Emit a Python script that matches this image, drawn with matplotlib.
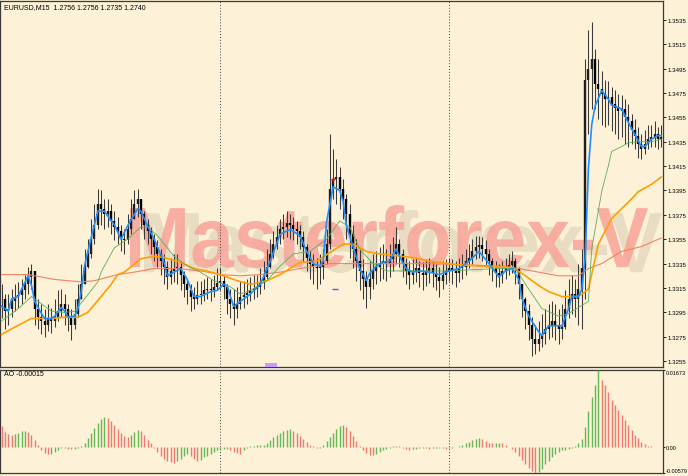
import numpy as np
import matplotlib
matplotlib.use("Agg")
from matplotlib import pyplot as plt
from matplotlib.textpath import TextPath
from matplotlib.patches import PathPatch, Rectangle
from matplotlib.font_manager import FontProperties
from matplotlib.transforms import Affine2D

plt.rcParams['font.family'] = ['Liberation Sans', 'DejaVu Sans']

title = "EURUSD,M15  1.2756 1.2756 1.2735 1.2740"
ao_title = "AO -0.00015"
watermark = "Masterforex-V"

# EURUSD M15 bars (price * 10000)
close = [
    13306, 13296, 13298, 13304, 13308, 13309, 13313, 13318, 13324, 13329,
    13298, 13291, 13288, 13285, 13290, 13288, 13291, 13296, 13302, 13298,
    13290, 13285, 13294, 13306, 13318, 13332, 13343, 13355, 13367, 13384,
    13380, 13376, 13378, 13370, 13365, 13362, 13355, 13354, 13363, 13372,
    13384, 13388, 13376, 13367, 13362, 13355, 13349, 13343, 13337, 13332,
    13324, 13329, 13331, 13332, 13326, 13318, 13313, 13308, 13306, 13309,
    13310, 13313, 13314, 13313, 13316, 13319, 13321, 13316, 13306, 13302,
    13298, 13302, 13308, 13309, 13311, 13313, 13314, 13316, 13319, 13324,
    13332, 13343, 13351, 13357, 13363, 13365, 13368, 13367, 13363, 13362,
    13357, 13349, 13340, 13335, 13332, 13331, 13332, 13337, 13351, 13396,
    13404, 13406, 13396, 13388, 13376, 13359, 13347, 13337, 13329, 13322,
    13316, 13322, 13329, 13332, 13335, 13337, 13335, 13339, 13343, 13351,
    13343, 13335, 13329, 13326, 13329, 13331, 13327, 13326, 13329, 13331,
    13327, 13324, 13321, 13326, 13329, 13331, 13329, 13327, 13331, 13332,
    13337, 13340, 13345, 13349, 13350, 13347, 13343, 13337, 13331, 13327,
    13326, 13329, 13331, 13334, 13337, 13331, 13318, 13306, 13296, 13285,
    13273, 13269, 13273, 13277, 13281, 13285, 13288, 13285, 13281, 13283,
    13298, 13306, 13310, 13306, 13314, 13331, 13486, 13495, 13503, 13482,
    13478, 13474, 13470, 13472, 13466, 13463, 13460, 13462, 13455, 13452,
    13445, 13440, 13433, 13429, 13433, 13437, 13439, 13441, 13437, 13439]
high = [
    13318, 13310, 13310, 13314, 13318, 13320, 13322, 13326, 13332, 13335,
    13318, 13306, 13302, 13298, 13302, 13299, 13306, 13313, 13314, 13310,
    13302, 13298, 13306, 13318, 13335, 13347, 13355, 13372, 13384, 13396,
    13395, 13388, 13388, 13384, 13378, 13373, 13367, 13363, 13376, 13388,
    13395, 13396, 13388, 13378, 13372, 13365, 13359, 13354, 13347, 13343,
    13337, 13340, 13343, 13343, 13337, 13329, 13322, 13318, 13316, 13321,
    13321, 13322, 13324, 13322, 13326, 13331, 13331, 13326, 13318, 13314,
    13314, 13316, 13321, 13321, 13322, 13324, 13326, 13326, 13331, 13337,
    13347, 13355, 13362, 13367, 13372, 13376, 13378, 13376, 13373, 13370,
    13367, 13362, 13351, 13345, 13343, 13340, 13343, 13347, 13363, 13441,
    13429, 13421, 13414, 13404, 13392, 13384, 13367, 13355, 13347, 13339,
    13329, 13337, 13343, 13345, 13349, 13351, 13347, 13351, 13357, 13365,
    13355, 13347, 13340, 13337, 13339, 13340, 13337, 13336, 13339, 13340,
    13337, 13335, 13332, 13337, 13339, 13340, 13339, 13337, 13340, 13343,
    13347, 13351, 13355, 13358, 13358, 13357, 13354, 13347, 13340, 13337,
    13335, 13337, 13340, 13343, 13345, 13340, 13332, 13318, 13308, 13302,
    13291, 13285, 13288, 13294, 13298, 13302, 13304, 13302, 13298, 13302,
    13313, 13322, 13326, 13322, 13335, 13347, 13503, 13527, 13533, 13511,
    13503, 13493, 13486, 13485, 13480, 13477, 13474, 13473, 13470, 13466,
    13458, 13454, 13447, 13441, 13445, 13449, 13449, 13452, 13447, 13449]
low = [
    13290, 13281, 13285, 13291, 13296, 13299, 13302, 13306, 13310, 13314,
    13285, 13281, 13277, 13275, 13280, 13278, 13283, 13288, 13291, 13285,
    13280, 13272, 13281, 13291, 13306, 13318, 13331, 13340, 13351, 13363,
    13367, 13363, 13365, 13359, 13354, 13351, 13345, 13343, 13351, 13359,
    13372, 13373, 13363, 13355, 13351, 13343, 13337, 13332, 13326, 13318,
    13314, 13318, 13320, 13318, 13313, 13308, 13302, 13296, 13298, 13302,
    13302, 13304, 13306, 13304, 13308, 13313, 13313, 13306, 13294, 13290,
    13285, 13290, 13298, 13299, 13302, 13304, 13306, 13308, 13310, 13314,
    13322, 13331, 13340, 13347, 13351, 13355, 13357, 13355, 13354, 13351,
    13347, 13337, 13329, 13322, 13318, 13314, 13318, 13322, 13335, 13347,
    13388, 13384, 13380, 13372, 13355, 13340, 13331, 13321, 13313, 13306,
    13299, 13306, 13314, 13318, 13321, 13322, 13321, 13324, 13329, 13335,
    13332, 13324, 13318, 13314, 13318, 13320, 13316, 13313, 13317, 13319,
    13316, 13313, 13308, 13314, 13318, 13321, 13318, 13316, 13320, 13322,
    13326, 13331, 13335, 13339, 13340, 13337, 13332, 13326, 13321, 13316,
    13316, 13319, 13322, 13326, 13327, 13318, 13306, 13291, 13281, 13272,
    13259, 13261, 13263, 13267, 13269, 13273, 13275, 13272, 13269, 13273,
    13281, 13290, 13294, 13291, 13285, 13281, 13306, 13441, 13462, 13462,
    13454, 13449, 13447, 13449, 13444, 13441, 13437, 13439, 13433, 13431,
    13433, 13429, 13422, 13421, 13425, 13429, 13431, 13431, 13429, 13431]

# moving averages (bar index, price * 10000)
fast_ma_bar = [0, 2, 3, 5, 6, 8, 9, 10, 12, 13, 15, 16, 18, 19, 20, 22, 23, 24, 25, 26,
               29, 31, 32, 34, 36, 38, 41, 42, 44, 46, 49, 50, 52, 54, 56, 58, 60, 63, 65, 67,
               68, 69, 70, 72, 75, 78, 81, 84, 87, 90, 92, 94, 96, 97, 98, 100, 102, 103, 104, 106,
               108, 110, 111, 113, 115, 117, 119, 120, 122, 124, 126, 129, 132, 135, 138, 141, 144, 147, 150, 152,
               154, 156, 157, 159, 162, 163, 165, 167, 169, 171, 172, 174, 175, 176, 177, 178, 179, 181, 183, 184,
               187, 189, 191, 193, 194, 196, 198, 199]
fast_ma = [13300, 13296, 13306, 13308, 13314, 13325, 13317, 13304, 13294, 13290,
           13290, 13292, 13299, 13296, 13291, 13292, 13298, 13312, 13333, 13345,
           13378, 13378, 13374, 13367, 13355, 13366, 13380, 13378, 13366, 13355,
           13336, 13325, 13328, 13331, 13322, 13308, 13308, 13312, 13313, 13318,
           13317, 13308, 13300, 13304, 13310, 13318, 13337, 13359, 13363, 13358,
           13345, 13335, 13333, 13337, 13369, 13398, 13395, 13386, 13366, 13349,
           13331, 13321, 13327, 13333, 13336, 13337, 13347, 13341, 13331, 13328,
           13329, 13328, 13326, 13329, 13331, 13337, 13345, 13335, 13324, 13329,
           13331, 13322, 13306, 13292, 13279, 13276, 13284, 13284, 13284, 13298,
           13308, 13308, 13314, 13339, 13413, 13449, 13464, 13477, 13470, 13465,
           13462, 13451, 13441, 13431, 13431, 13437, 13440, 13440]

mid_ma_bar = [0, 5, 9, 12, 15, 19, 22, 25, 29, 30, 34, 38, 42, 44, 47, 52, 56, 60, 64, 69,
              72, 75, 80, 84, 88, 93, 98, 102, 105, 108, 112, 116, 120, 135, 150, 155, 159, 163, 168, 171,
              174, 177, 178, 181, 183, 184, 187, 189, 192, 196, 199]
mid_ma = [13288, 13298, 13308, 13302, 13296, 13295, 13296, 13306, 13320, 13328,
          13348, 13355, 13365, 13365, 13358, 13341, 13333, 13328, 13321, 13316,
          13310, 13313, 13321, 13333, 13343, 13345, 13355, 13370, 13365, 13347,
          13335, 13329, 13329, 13329, 13331, 13331, 13314, 13298, 13292, 13294,
          13299, 13304, 13347, 13394, 13415, 13427, 13431, 13434, 13435, 13435,
          13437]

slow_ma_bar = [0, 4, 9, 12, 15, 19, 23, 26, 30, 33, 35, 37, 42, 46, 49, 54, 58, 62, 67, 71,
               75, 80, 84, 90, 95, 103, 106, 110, 114, 124, 129, 138, 150, 154, 158, 162, 165, 169, 174, 177,
               180, 184, 190, 192, 196, 199]
slow_ma = [13277, 13283, 13290, 13290, 13290, 13291, 13291, 13295, 13308, 13318,
           13326, 13328, 13339, 13341, 13340, 13336, 13331, 13329, 13325, 13321,
           13318, 13321, 13326, 13336, 13337, 13351, 13351, 13345, 13343, 13340,
           13337, 13334, 13332, 13332, 13325, 13317, 13312, 13308, 13308, 13314,
           13351, 13372, 13388, 13394, 13400, 13406]

long_ma_bar = [0, 8, 16, 24, 28, 35, 40, 46, 53, 60, 66, 72, 78, 84, 90, 99, 109, 129, 150, 156,
               162, 168, 174, 177, 181, 187, 193, 199]
long_ma = [13326, 13326, 13322, 13320, 13321, 13326, 13328, 13331, 13331, 13329,
           13326, 13325, 13326, 13328, 13331, 13335, 13335, 13335, 13333, 13331,
           13328, 13325, 13325, 13331, 13335, 13345, 13349, 13356]

# Awesome Oscillator, one value per bar
ao = [
    0.00459, 0.00328, 0.00284, 0.00262, 0.00284, 0.00306, 0.00339, 0.00341, 0.00328, 0.00262,
    0.00153, 0.00044, -0.00066, -0.00131, -0.00168, -0.00153, -0.00109, -0.00066, -0.00033, -0.00022,
    -0.00044, -0.00059, -0.00044, -0.00022, 0.00022, 0.00087, 0.00197, 0.00306, 0.00415, 0.00525,
    0.00612, 0.00656, 0.00634, 0.00568, 0.00481, 0.00393, 0.00306, 0.00240, 0.00219, 0.00262,
    0.00328, 0.00365, 0.00350, 0.00262, 0.00153, 0.00066, -0.00022, -0.00109, -0.00197, -0.00262,
    -0.00306, -0.00339, -0.00350, -0.00306, -0.00262, -0.00197, -0.00168, -0.00197, -0.00262, -0.00306,
    -0.00284, -0.00240, -0.00197, -0.00153, -0.00109, -0.00087, -0.00066, -0.00044, -0.00050, -0.00087,
    -0.00109, -0.00131, -0.00153, -0.00087, -0.00022, 0.00011, 0.00022, 0.00026, 0.00033, 0.00044,
    0.00087, 0.00153, 0.00219, 0.00262, 0.00306, 0.00339, 0.00372, 0.00387, 0.00350, 0.00306,
    0.00240, 0.00175, 0.00109, 0.00044, 0.00011, -0.00022, -0.00033, 0.00044, 0.00131, 0.00219,
    0.00306, 0.00393, 0.00459, 0.00481, 0.00437, 0.00350, 0.00240, 0.00131, 0.00022, -0.00066,
    -0.00131, -0.00175, -0.00186, -0.00153, -0.00109, -0.00066, -0.00044, -0.00022, 0.00011, 0.00022,
    0.00011, -0.00022, -0.00044, -0.00066, -0.00060, -0.00044, -0.00033, -0.00022, -0.00033, -0.00044,
    -0.00040, -0.00033, -0.00022, -0.00033, -0.00044, -0.00033, -0.00022, -0.00011, 0.00011, 0.00033,
    0.00066, 0.00109, 0.00142, 0.00175, 0.00197, 0.00175, 0.00131, 0.00087, 0.00066, 0.00077,
    0.00087, 0.00066, 0.00033, 0.00000, -0.00044, -0.00109, -0.00197, -0.00284, -0.00372, -0.00459,
    -0.00525, -0.00579, -0.00547, -0.00481, -0.00393, -0.00306, -0.00219, -0.00153, -0.00109, -0.00087,
    -0.00066, -0.00044, -0.00022, 0.00022, 0.00066, 0.00175, 0.00437, 0.00787, 0.01093, 0.01355,
    0.01673, 0.01465, 0.01355, 0.01202, 0.01027, 0.00918, 0.00809, 0.00700, 0.00590, 0.00481,
    0.00372, 0.00262, 0.00197, 0.00109, 0.00055, 0.00022, 0.00011, 0.00000, -0.00010, -0.00015]

day_separators = [66, 135]
price_ticks = [1.3255, 1.3275, 1.3295, 1.3315, 1.3335, 1.3355, 1.3375, 1.3395,
               1.3415, 1.3435, 1.3455, 1.3475, 1.3495, 1.3515, 1.3535]
ao_ticks = [-0.00579, 0.0, 0.01673]
ao_tick_labels = ["-0.00579", "0.00", "0.01673"]

BG = "#fdf1d8"

c = np.array(close) / 1e4
h = np.array(high) / 1e4
l = np.array(low) / 1e4
o = np.r_[c[0], c[:-1]]
x = np.arange(len(c))

fig = plt.figure(figsize=(6.88, 4.77), dpi=100, facecolor=BG)
ax = fig.add_axes([0.0, 109 / 477, 663 / 688, 366 / 477], facecolor=BG)
ax2 = fig.add_axes([0.0, 3 / 477, 663 / 688, 103 / 477], facecolor=BG)

# watermark with shadow
tp = TextPath((0, 0), watermark, size=100,
              prop=FontProperties(family="Liberation Sans", weight="bold"))
ext = tp.get_extents()
w_ax, h_ax = 518 / 663, 63 / 366
x0, y0 = 130 / 663, (368 - 269) / 366
base = Affine2D().translate(-ext.x0, -ext.y0).scale(w_ax / ext.width, h_ax / ext.height)
shadow = PathPatch(tp, transform=base + Affine2D().translate(x0 + 14 / 663, y0 - 5 / 366) + ax.transAxes,
                   color="#d8cdb3", alpha=0.55, lw=0, zorder=0.5)
front = PathPatch(tp, transform=base + Affine2D().translate(x0, y0) + ax.transAxes,
                  color="#f8a498", alpha=0.85, lw=0, zorder=0.6)
ax.add_patch(shadow)
ax.add_patch(front)

# candles
ax.vlines(x, l, h, colors="#3a3a3a", lw=0.75, zorder=3)
bear = c < o
ax.vlines(x[bear], c[bear], o[bear], colors="#000000", lw=1.7, zorder=3)
ax.vlines(x[~bear], o[~bear], c[~bear], colors="#1e1e1e", lw=1.7, zorder=3)

ax.plot(long_ma_bar, np.array(long_ma) / 1e4, color="#f4825e", lw=0.8, zorder=4)
ax.plot(slow_ma_bar, np.array(slow_ma) / 1e4, color="#ffa000", lw=1.2, zorder=4)
ax.plot(mid_ma_bar, np.array(mid_ma) / 1e4, color="#5fae5a", lw=0.6, zorder=4)
ax.plot(fast_ma_bar, np.array(fast_ma) / 1e4, color="#1e8fff", lw=1.2, zorder=5)

ax.plot([100], [1.3404], marker="+", color="red", ms=3, mew=1, zorder=6)
ax.plot([100.5], [1.3314], marker="_", color="#6a5acd", ms=4, mew=1, zorder=6)
ax.add_patch(Rectangle((265 / 663, 0), 12 / 663, 4 / 366, transform=ax.transAxes,
                       color="#cc99ff", lw=0, zorder=6))

for d in day_separators:
    ax.axvline(d, color="#404040", lw=0.7, ls=(0, (1, 2)), zorder=2)
    ax2.axvline(d, color="#404040", lw=0.7, ls=(0, (1, 2)), zorder=2)

ax.set_xlim(-0.5, 199.5)
ax.set_ylim(1.32502, 1.35504)
ax.set_xticks([])
ax.yaxis.tick_right()
ax.set_yticks(price_ticks)
ax.set_yticklabels([f"{p:.4f}" for p in price_ticks])
ax.tick_params(axis="y", length=2.5, width=0.6, pad=1, labelsize=4.4, colors="black")
ax.text(0.006, 1 - 2 / 366, title, transform=ax.transAxes, fontsize=5, va="top", ha="left")

# AO histogram
ao_arr = np.array(ao)
colors = ["#f07a70"] + ["#66b856" if ao_arr[i] > ao_arr[i - 1] else "#f07a70"
                        for i in range(1, len(ao_arr))]
ax2.vlines(x, 0, ao_arr, colors=colors, lw=1.0, zorder=3)
ax2.set_xlim(-0.5, 199.5)
ax2.set_ylim(-0.00579, 0.01673)
ax2.set_xticks([])
ax2.yaxis.tick_right()
ax2.set_yticks(ao_ticks)
ax2.set_yticklabels(ao_tick_labels)
ax2.tick_params(axis="y", length=1.5, width=0.6, pad=0.5, labelsize=4.0, colors="black")
labs = ax2.get_yticklabels()
labs[0].set_va("bottom")
labs[2].set_va("top")
ax2.text(0.006, 1 - 4 / 103, ao_title, transform=ax2.transAxes, fontsize=5, va="center", ha="left")

for a in (ax, ax2):
    for s in a.spines.values():
        s.set_color("#3a3a3a")
        s.set_linewidth(0.9)

fig.savefig("out.png", dpi=100, facecolor=BG)
